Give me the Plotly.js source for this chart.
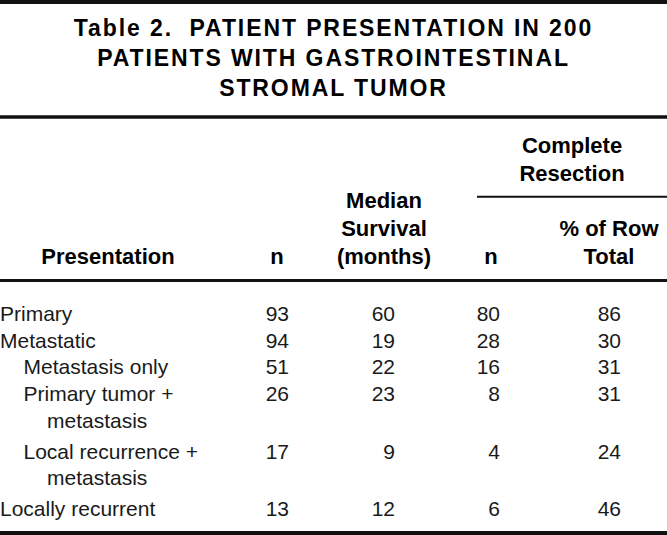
<!DOCTYPE html>
<html><head><meta charset="utf-8">
<script src="https://cdn.plot.ly/plotly-3.0.1.min.js"></script>
<style>
html,body{margin:0;padding:0;background:#fff;}
#chart{width:667px;height:535px;}
.gtitle{letter-spacing:1.9px;}
</style></head><body><div id="chart"></div>
<script>
// ---- data ----
const titleLines = ['Table 2.  PATIENT PRESENTATION IN 200', 'PATIENTS WITH GASTROINTESTINAL', 'STROMAL TUMOR'];
const presentations = ['Primary', 'Metastatic', 'Metastasis only', 'Primary tumor +<br>metastasis', 'Local recurrence +<br>metastasis', 'Locally recurrent'];
const indentLevels = [0, 0, 1, 1, 1, 0];
const nPatients = [93, 94, 51, 26, 17, 13];
const medianSurvival = [60, 19, 22, 23, 9, 12];
const resectionN = [80, 28, 16, 8, 4, 6];
const resectionPct = [86, 30, 31, 31, 24, 46];
const columnHeaders = ['Presentation', 'n', 'Median<br>Survival<br>(months)', 'n', '% of Row<br>Total'];
const spannerHeader = 'Complete<br>Resection';

// ---- layout constants ----
const W = 667, H = 535;
const BODY_FS = 21, HEAD_FS = 22, TITLE_FS = 23;
const FONT = 'Liberation Sans, Arial, Helvetica, sans-serif';
const numRight = [289, 395, 500, 621];
const headCenter = [108, 277, 384, 491, 609];
const spanCenter = 572;
const firstBaseline = 321, lineStep = 26.7, rowGap = 4;
const headBaseline = 264, headStep = 28, spanBaseline = 181;
const indentPx = 23.5;
const MID = 0.25; // plotly: baseline = y + 0.25*fontSize for middle text

// row positions derived from label line counts
const rowBase = [];
const lblX = [], lblY = [], lblT = [];
let cur = firstBaseline;
presentations.forEach((p, i) => {
  const lines = p.split('<br>');
  rowBase.push(cur);
  lines.forEach((ln, j) => {
    lblX.push((indentLevels[i] + (j > 0 ? 1 : 0)) * indentPx);
    lblY.push(cur + j * lineStep - MID * BODY_FS);
    lblT.push(ln);
  });
  cur += lines.length * lineStep + (lines.length > 1 ? rowGap : 0);
});
const rowY = rowBase.map(b => b - MID * BODY_FS);

const bodyFont = {family: FONT, size: BODY_FS, color: '#1a1a1a'};
const headFont = {family: FONT, size: HEAD_FS, color: '#000', weight: 'bold'};

const traces = [];
traces.push({type: 'scatter', mode: 'text', x: lblX, y: lblY, text: lblT,
  textposition: 'middle right', textfont: bodyFont, hoverinfo: 'skip', showlegend: false});
[nPatients, medianSurvival, resectionN, resectionPct].forEach((vals, k) => {
  traces.push({type: 'scatter', mode: 'text', x: vals.map(() => numRight[k]), y: rowY,
    text: vals.map(String), textposition: 'middle left', textfont: bodyFont,
    hoverinfo: 'skip', showlegend: false});
});
// headers
const hX = [], hY = [], hT = [];
columnHeaders.forEach((h, k) => {
  const lines = h.split('<br>');
  lines.forEach((ln, j) => {
    hX.push(headCenter[k]);
    hY.push(headBaseline - (lines.length - 1 - j) * headStep - MID * HEAD_FS);
    hT.push(ln);
  });
});
spannerHeader.split('<br>').forEach((ln, j, arr) => {
  hX.push(spanCenter);
  hY.push(spanBaseline - (arr.length - 1 - j) * headStep - MID * HEAD_FS);
  hT.push(ln);
});
traces.push({type: 'scatter', mode: 'text', x: hX, y: hY, text: hT,
  textposition: 'middle center', textfont: headFont, hoverinfo: 'skip', showlegend: false});

function rule(y, w, x0, x1) {
  return {type: 'line', xref: 'x', yref: 'y', x0: x0 === undefined ? 0 : x0, x1: x1 === undefined ? W : x1,
    y0: y, y1: y, line: {color: '#111', width: w}};
}

const layout = {
  width: W, height: H,
  margin: {l: 0, r: 0, t: 0, b: 0, pad: 0},
  paper_bgcolor: '#fff', plot_bgcolor: '#fff',
  title: {text: titleLines.join('<br>'), font: {family: FONT, size: TITLE_FS, color: '#000', weight: 'bold'},
    x: 0.5, xref: 'container', xanchor: 'center', y: 1 - 36 / H, yref: 'container', yanchor: 'top',
    pad: {t: 0, b: 0, l: 0, r: 0}},
  xaxis: {range: [0, W], visible: false, fixedrange: true},
  yaxis: {range: [H, 0], visible: false, fixedrange: true},
  shapes: [rule(2, 4), rule(117, 3.5), rule(196.7, 2, 477, W), rule(280.5, 3), rule(533, 4)],
  showlegend: false, hovermode: false
};
Plotly.newPlot('chart', traces, layout, {displayModeBar: false, staticPlot: true});
</script></body></html>
